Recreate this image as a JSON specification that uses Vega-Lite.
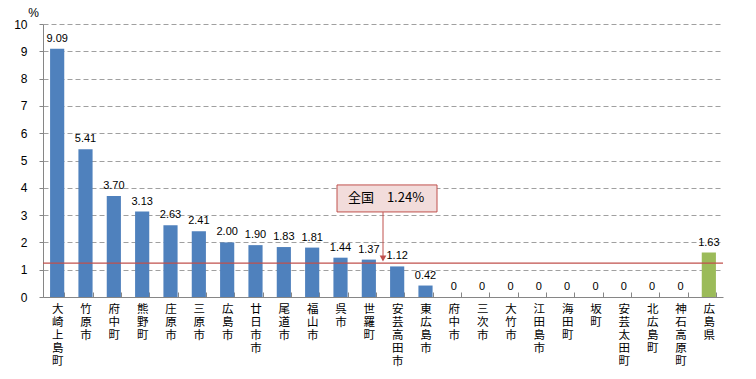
{
  "$schema": "https://vega.github.io/schema/vega-lite/v6.json",
  "width": 680,
  "height": 273,
  "autosize": {"type": "none"},
  "padding": {"left": 43, "top": 24, "right": 33, "bottom": 82},
  "background": "white",
  "config": {
    "view": {"stroke": null},
    "axisY": {
      "titleAngle": 0, "titleX": -10, "titleY": -12,
      "titleAlign": "center", "titleBaseline": "middle",
      "titleFontWeight": "normal", "titleFontSize": 12,
      "titleFont": "Liberation Sans", "titleColor": "black",
      "labelOverlap": false,
      "grid": true, "gridDash": [5, 3], "gridColor": "#a0a0a0",
      "domainColor": "#868686", "tickColor": "#868686", "tickSize": 4,
      "labelFontSize": 12, "labelColor": "black", "labelPadding": 12,
      "labelFont": "Liberation Sans"
    },
    "axisX": {
      "labelAngle": 0,
      "labelBaseline": "top", "labelAlign": "center",
      "labelLineHeight": 13, "labelFont": "Noto Sans CJK JP",
      "labelFontSize": 11.5, "labelColor": "black",
      "labelOverlap": false, "labelBound": false, "labelPadding": 11,
      "tickBand": "extent", "tickSize": -5, "tickColor": "#868686",
      "domainColor": "#868686", "grid": false
    }
  },
  "datasets": {
    "bars": [
      {"cat": "大崎上島町", "v": 9.09, "label": "9.09", "g": "市町"},
      {"cat": "竹原市", "v": 5.41, "label": "5.41", "g": "市町"},
      {"cat": "府中町", "v": 3.70, "label": "3.70", "g": "市町"},
      {"cat": "熊野町", "v": 3.13, "label": "3.13", "g": "市町"},
      {"cat": "庄原市", "v": 2.63, "label": "2.63", "g": "市町"},
      {"cat": "三原市", "v": 2.41, "label": "2.41", "g": "市町"},
      {"cat": "広島市", "v": 2.00, "label": "2.00", "g": "市町"},
      {"cat": "廿日市市", "v": 1.90, "label": "1.90", "g": "市町"},
      {"cat": "尾道市", "v": 1.83, "label": "1.83", "g": "市町"},
      {"cat": "福山市", "v": 1.81, "label": "1.81", "g": "市町"},
      {"cat": "呉市", "v": 1.44, "label": "1.44", "g": "市町"},
      {"cat": "世羅町", "v": 1.37, "label": "1.37", "g": "市町"},
      {"cat": "安芸高田市", "v": 1.12, "label": "1.12", "g": "市町"},
      {"cat": "東広島市", "v": 0.42, "label": "0.42", "g": "市町"},
      {"cat": "府中市", "v": 0, "label": "0", "g": "市町"},
      {"cat": "三次市", "v": 0, "label": "0", "g": "市町"},
      {"cat": "大竹市", "v": 0, "label": "0", "g": "市町"},
      {"cat": "江田島市", "v": 0, "label": "0", "g": "市町"},
      {"cat": "海田町", "v": 0, "label": "0", "g": "市町"},
      {"cat": "坂町", "v": 0, "label": "0", "g": "市町"},
      {"cat": "安芸太田町", "v": 0, "label": "0", "g": "市町"},
      {"cat": "北広島町", "v": 0, "label": "0", "g": "市町"},
      {"cat": "神石高原町", "v": 0, "label": "0", "g": "市町"},
      {"cat": "広島県", "v": 1.63, "label": "1.63", "g": "県"}
    ],
    "note": [
      {"cat": "世羅町", "box": 3.61, "top": 3.11, "bottom": 1.42, "head": 1.41, "text": "全国　1.24%"}
    ],
    "ref": [{"r": 1.24}]
  },
  "layer": [
    {
      "data": {"name": "bars"},
      "mark": {"type": "bar"},
      "encoding": {
        "x": {
          "field": "cat", "type": "nominal", "sort": null,
          "scale": {"paddingInner": 0.5, "paddingOuter": 0.25},
          "axis": {"title": null, "labelExpr": "split(datum.label, '')"}
        },
        "y": {
          "field": "v", "type": "quantitative",
          "scale": {"domain": [0, 10], "nice": false},
          "axis": {"title": "%", "values": [0, 1, 2, 3, 4, 5, 6, 7, 8, 9, 10]}
        },
        "color": {
          "field": "g", "type": "nominal",
          "scale": {"domain": ["市町", "県"], "range": ["#4f81bd", "#9bbb59"]},
          "legend": null
        }
      }
    },
    {
      "data": {"name": "bars"},
      "mark": {"type": "text", "baseline": "bottom", "dy": -5, "fontSize": 11, "font": "Liberation Sans", "color": "black"},
      "encoding": {
        "x": {"field": "cat", "type": "nominal", "sort": null, "axis": {"title": null, "labelExpr": "split(datum.label, '')"}},
        "y": {"field": "v", "type": "quantitative", "axis": {"title": "%", "values": [0, 1, 2, 3, 4, 5, 6, 7, 8, 9, 10]}},
        "text": {"field": "label"}
      }
    },
    {
      "data": {"name": "ref"},
      "mark": {"type": "rule", "color": "#c0504d", "strokeWidth": 1.2},
      "encoding": {"y": {"field": "r", "type": "quantitative", "axis": {"title": "%", "values": [0, 1, 2, 3, 4, 5, 6, 7, 8, 9, 10]}}}
    },
    {
      "data": {"name": "note"},
      "mark": {"type": "rule", "color": "#c0504d", "strokeWidth": 1},
      "encoding": {
        "x": {"field": "cat", "type": "nominal", "sort": null, "bandPosition": 1.5, "axis": {"title": null, "labelExpr": "split(datum.label, '')"}},
        "y": {"field": "top", "type": "quantitative", "axis": {"title": "%", "values": [0, 1, 2, 3, 4, 5, 6, 7, 8, 9, 10]}},
        "y2": {"field": "bottom"}
      }
    },
    {
      "data": {"name": "note"},
      "mark": {"type": "point", "shape": "triangle-down", "filled": true, "color": "#c0504d", "size": 45, "opacity": 1},
      "encoding": {
        "x": {"field": "cat", "type": "nominal", "sort": null, "bandPosition": 1.5, "axis": {"title": null, "labelExpr": "split(datum.label, '')"}},
        "y": {"field": "head", "type": "quantitative", "axis": {"title": "%", "values": [0, 1, 2, 3, 4, 5, 6, 7, 8, 9, 10]}}
      }
    },
    {
      "data": {"name": "note"},
      "mark": {"type": "point", "shape": "M-1,-0.27H1V0.27H-1Z", "size": 10000, "filled": true, "fill": "#f2dcdb", "stroke": "#c0504d", "strokeWidth": 1, "opacity": 1, "xOffset": 4},
      "encoding": {
        "x": {"field": "cat", "type": "nominal", "sort": null, "bandPosition": 1.5, "axis": {"title": null, "labelExpr": "split(datum.label, '')"}},
        "y": {"field": "box", "type": "quantitative", "axis": {"title": "%", "values": [0, 1, 2, 3, 4, 5, 6, 7, 8, 9, 10]}}
      }
    },
    {
      "data": {"name": "note"},
      "mark": {"type": "text", "font": "Noto Sans CJK JP", "fontSize": 13, "color": "black", "align": "center", "baseline": "middle", "xOffset": 3},
      "encoding": {
        "x": {"field": "cat", "type": "nominal", "sort": null, "bandPosition": 1.5, "axis": {"title": null, "labelExpr": "split(datum.label, '')"}},
        "y": {"field": "box", "type": "quantitative", "axis": {"title": "%", "values": [0, 1, 2, 3, 4, 5, 6, 7, 8, 9, 10]}},
        "text": {"field": "text"}
      }
    }
  ]
}
